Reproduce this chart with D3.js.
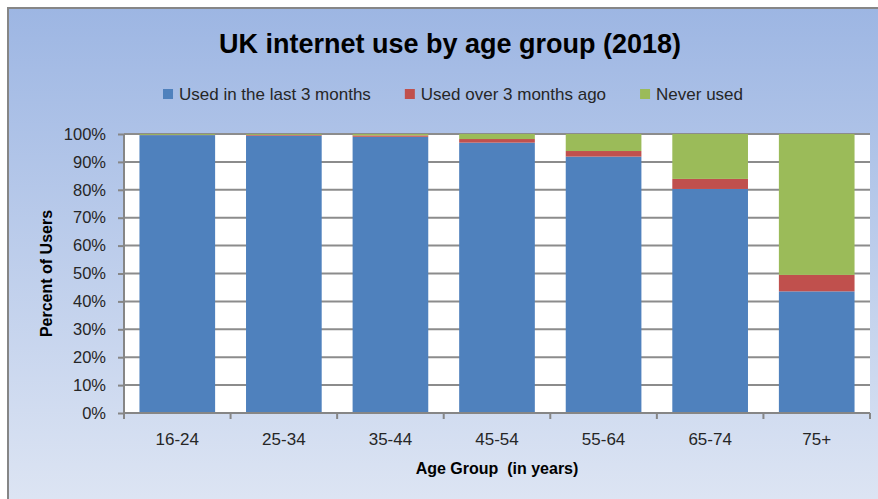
<!DOCTYPE html>
<html>
<head>
<meta charset="utf-8">
<script src="https://cdn.jsdelivr.net/npm/d3@7"></script>
<style>
  body { margin: 0; background: #fff; }
  text { font-family: "Liberation Sans", Arial, sans-serif; }
</style>
</head>
<body>
<svg id="chart" width="878" height="499"></svg>
<script>
// data
const groups = ["16-24", "25-34", "35-44", "45-54", "55-64", "65-74", "75+"];
const recent = [99.6, 99.4, 99.0, 96.9, 91.9, 80.3, 43.6];
const lapsed = [0.1, 0.3, 0.5, 1.3, 2.0, 3.6, 5.9];
const never = [0.3, 0.3, 0.5, 1.8, 6.1, 16.1, 50.5];
const seriesNames = ["Used in the last 3 months", "Used over 3 months ago", "Never used"];
const yTicks = [0, 10, 20, 30, 40, 50, 60, 70, 80, 90, 100];

const colors = ["#4f81bd", "#c0504d", "#9bbb59"];
const width = 878, height = 499;
const plotLeft = 124, plotRight = 870, plotTop = 134, plotBottom = 413;

const svg = d3.select("#chart");

// background with gradient
const defs = svg.append("defs");
const grad = defs.append("linearGradient")
  .attr("id", "bg").attr("x1", 0).attr("y1", 0).attr("x2", 0).attr("y2", 1);
grad.append("stop").attr("offset", "0%").attr("stop-color", "#9db6e3");
grad.append("stop").attr("offset", "100%").attr("stop-color", "#e0e7f4");

svg.append("rect")
  .attr("x", 8).attr("y", 8)
  .attr("width", width + 20).attr("height", height + 20)
  .attr("fill", "url(#bg)")
  .attr("stroke", "#868686")
  .attr("stroke-width", 2);

// plot area
svg.append("rect")
  .attr("x", plotLeft).attr("y", plotTop)
  .attr("width", plotRight - plotLeft).attr("height", plotBottom - plotTop)
  .attr("fill", "#fff");

const x = d3.scaleBand().domain(groups).range([plotLeft, plotRight])
  .paddingInner(0.29).paddingOuter(0.145);
const y = d3.scaleLinear().domain([0, 100]).range([plotBottom, plotTop]);

// gridlines
svg.append("g")
  .selectAll("line")
  .data(yTicks.slice(1))
  .join("line")
  .attr("x1", plotLeft).attr("x2", plotRight)
  .attr("y1", (d) => y(d)).attr("y2", (d) => y(d))
  .attr("stroke", "#8c8c8c")
  .attr("stroke-width", 2);

// stacked bars
const rows = groups.map((g, i) => ({ group: g, s0: recent[i], s1: lapsed[i], s2: never[i] }));
const stack = d3.stack().keys(["s0", "s1", "s2"])(rows);

svg.append("g")
  .selectAll("g")
  .data(stack)
  .join("g")
  .attr("fill", (d, i) => colors[i])
  .selectAll("rect")
  .data((d) => d)
  .join("rect")
  .attr("x", (d) => x(d.data.group))
  .attr("width", x.bandwidth())
  .attr("y", (d) => y(d[1]))
  .attr("height", (d) => y(d[0]) - y(d[1]));

// y axis
const yAxis = d3.axisLeft(y)
  .tickValues(yTicks)
  .tickFormat((d) => d + "%")
  .tickSize(6)
  .tickPadding(12);

const yg = svg.append("g")
  .attr("transform", `translate(${plotLeft},0)`)
  .call(yAxis);
yg.select(".domain").attr("stroke", "#868686").attr("stroke-width", 2).attr("d", `M0,${plotTop}V${plotBottom}`);
yg.selectAll(".tick line").attr("stroke", "#868686").attr("stroke-width", 2);
yg.selectAll(".tick text").attr("fill", "#262626").style("font-size", "16.5px");

// x axis (labels at centres, ticks at band edges like the original)
const xAxis = d3.axisBottom(x).tickSize(0).tickPadding(20);
const xg = svg.append("g")
  .attr("transform", `translate(0,${plotBottom})`)
  .call(xAxis);
xg.select(".domain").attr("stroke", "#868686").attr("stroke-width", 2).attr("d", `M${plotLeft},0H${plotRight}`);
xg.selectAll(".tick text").attr("fill", "#262626").style("font-size", "17px");

const edges = groups.map((g) => x(g) - (x.step() * x.paddingInner()) / 2);
edges.push(plotRight);
xg.selectAll(".edge")
  .data(edges)
  .join("line")
  .attr("class", "edge")
  .attr("x1", (d) => d).attr("x2", (d) => d)
  .attr("y1", 0).attr("y2", 6)
  .attr("stroke", "#868686")
  .attr("stroke-width", 2);

// title
svg.append("text")
  .attr("x", 450).attr("y", 53)
  .attr("text-anchor", "middle")
  .style("font-size", "27px")
  .style("font-weight", "bold")
  .attr("fill", "#000")
  .text("UK internet use by age group (2018)");

// axis titles
svg.append("text")
  .attr("x", (plotLeft + plotRight) / 2).attr("y", 474)
  .attr("text-anchor", "middle")
  .style("font-size", "16px")
  .style("font-weight", "bold")
  .style("white-space", "pre")
  .attr("fill", "#000")
  .text("Age Group  (in years)");

svg.append("text")
  .attr("transform", `translate(52,${(plotTop + plotBottom) / 2}) rotate(-90)`)
  .attr("text-anchor", "middle")
  .style("font-size", "16px")
  .style("font-weight", "bold")
  .attr("fill", "#000")
  .text("Percent of Users");

// legend
const legend = svg.append("g");
let lx = 0;
seriesNames.forEach((name, i) => {
  const item = legend.append("g").attr("transform", `translate(${lx},0)`);
  item.append("rect")
    .attr("x", 0).attr("y", 89)
    .attr("width", 10).attr("height", 10)
    .attr("fill", colors[i]);
  const t = item.append("text")
    .attr("x", 16).attr("y", 100)
    .style("font-size", "17px")
    .attr("fill", "#262626")
    .text(name);
  lx += 16 + t.node().getComputedTextLength() + 34;
});
const legendW = lx - 34;
legend.attr("transform", `translate(${453 - legendW / 2},0)`);
</script>
</body>
</html>
